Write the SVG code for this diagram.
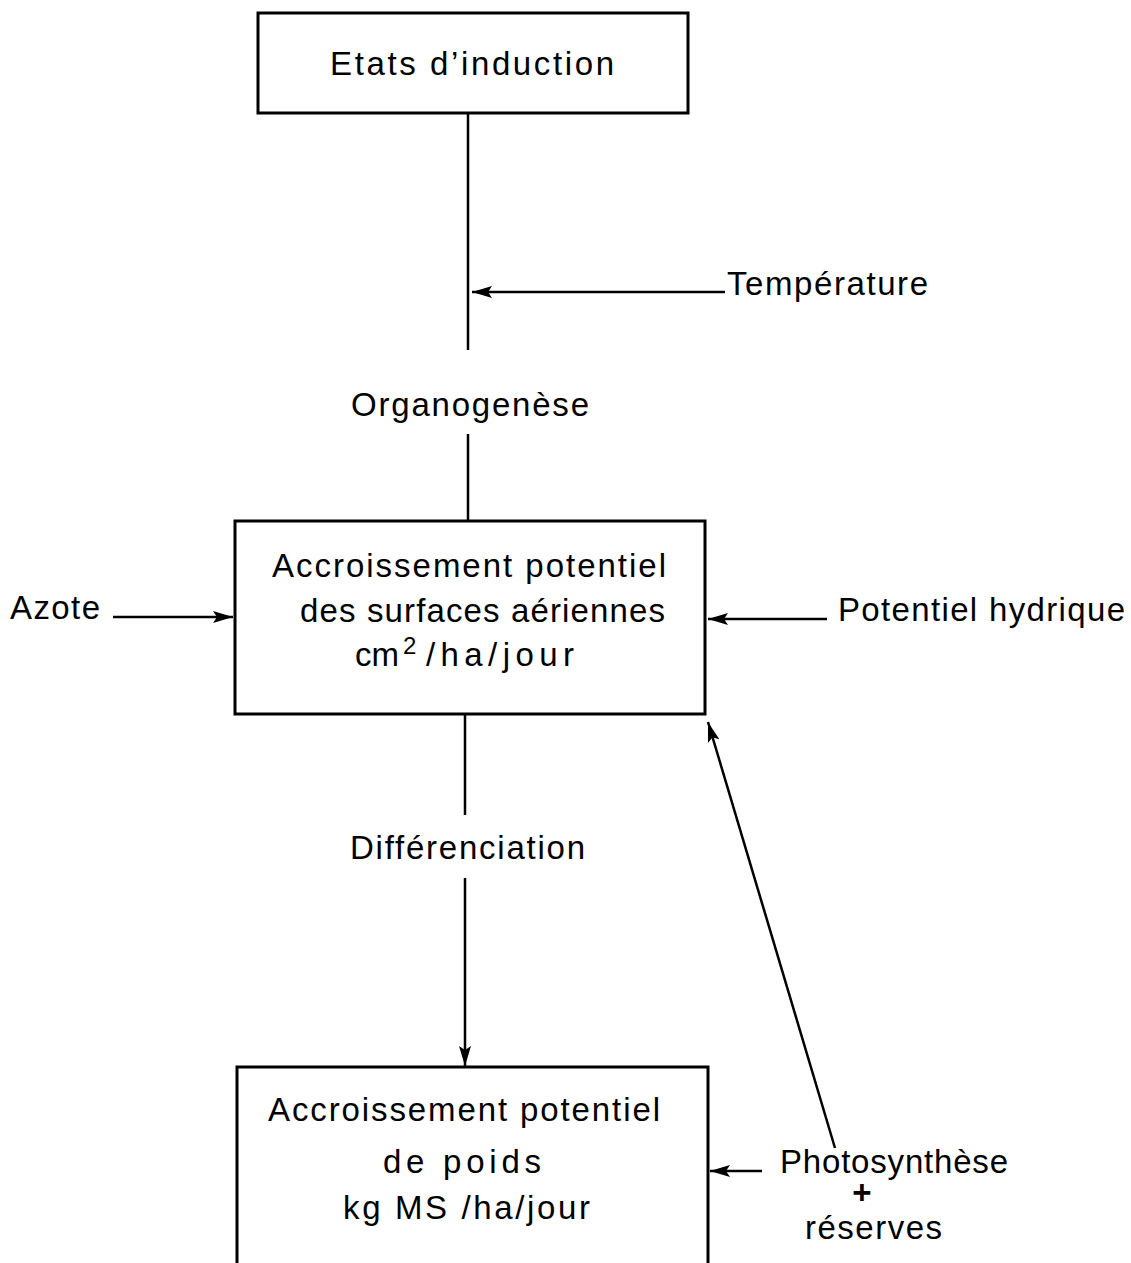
<svg xmlns="http://www.w3.org/2000/svg" width="1131" height="1263" viewBox="0 0 1131 1263">
<style>
.box{fill:none;stroke:#000;stroke-width:3}
.ln{fill:none;stroke:#000;stroke-width:2.5}
text{font-family:"Liberation Sans",Arial,sans-serif;font-size:33px;fill:#000}
</style>
<defs>
<marker id="ah" viewBox="0 0 20 12" refX="20" refY="6" markerWidth="20" markerHeight="12" markerUnits="userSpaceOnUse" orient="auto">
<path d="M0,0 L20,6 L0,12 L4,6 Z" fill="#000"/>
</marker>
</defs>
<rect width="1131" height="1263" fill="#fff"/>
<g id="connectors">
<line class="ln" x1="468" y1="113" x2="468" y2="350"/>
<line class="ln" x1="468" y1="434" x2="468" y2="521"/>
<line class="ln" x1="725" y1="292" x2="472" y2="292" marker-end="url(#ah)"/>
<line class="ln" x1="113" y1="617" x2="233" y2="617" marker-end="url(#ah)"/>
<line class="ln" x1="827" y1="619" x2="708" y2="619" marker-end="url(#ah)"/>
<line class="ln" x1="465" y1="714" x2="465" y2="815"/>
<line class="ln" x1="465" y1="878" x2="465" y2="1066" marker-end="url(#ah)"/>
<line class="ln" x1="762" y1="1171" x2="710" y2="1171" marker-end="url(#ah)"/>
<line class="ln" x1="835" y1="1148" x2="708" y2="722" marker-end="url(#ah)"/>
</g>
<g id="n-etats">
<rect class="box" x="258" y="13" width="430" height="100"/>
<text x="330" y="75" textLength="284">Etats d’induction</text>
</g>
<g id="n-temperature">
<text x="727" y="295" textLength="201">Température</text>
</g>
<g id="n-organogenese">
<text x="351" y="416" textLength="238">Organogenèse</text>
</g>
<g id="n-surfaces">
<rect class="box" x="235" y="521" width="470" height="193"/>
<text x="272" y="577" textLength="394">Accroissement potentiel</text>
<text x="300" y="622" textLength="365">des surfaces aériennes</text>
<text x="355" y="666">cm<tspan x="403" y="654" font-size="24">2</tspan><tspan x="426" y="666" textLength="148">/ha/jour</tspan></text>
</g>
<g id="n-azote">
<text x="10" y="619" textLength="90">Azote</text>
</g>
<g id="n-potentiel">
<text x="838" y="621" textLength="287">Potentiel hydrique</text>
</g>
<g id="n-differenciation">
<text x="350" y="859" textLength="235">Différenciation</text>
</g>
<g id="n-poids">
<rect class="box" x="237" y="1067" width="471" height="210"/>
<text x="268" y="1121" textLength="392">Accroissement potentiel</text>
<text x="383" y="1173" textLength="158">de poids</text>
<text x="343" y="1219" textLength="247">kg MS /ha/jour</text>
</g>
<g id="n-photo">
<text x="780" y="1173" textLength="228">Photosynthèse</text>
<text x="862" y="1204" text-anchor="middle" font-size="22" font-weight="bold">+</text>
<text x="805" y="1239" textLength="137">réserves</text>
</g>
</svg>
